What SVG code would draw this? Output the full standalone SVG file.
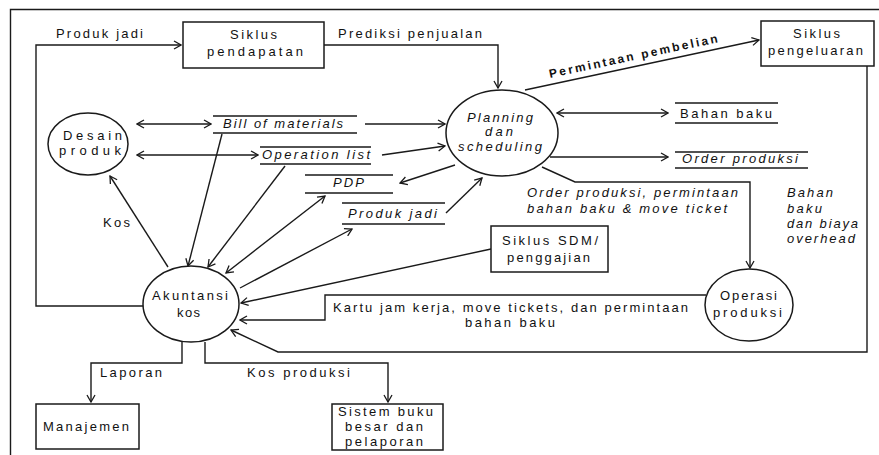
<svg xmlns="http://www.w3.org/2000/svg" width="879" height="455" viewBox="0 0 879 455">
  <style>
    .ln { fill: none; stroke: #1a1a1a; stroke-width: 1.4; }
    .box { fill: #fff; stroke: #1a1a1a; stroke-width: 1.5; }
    .t { font-family: "Liberation Sans", Arial, sans-serif; font-size: 13px; fill: #111; }
    .i { font-style: italic; }
    .b { font-weight: bold; font-size: 12px; }
  </style>
  <defs>
    <marker id="arr" viewBox="-8 -5 9 10" markerWidth="9" markerHeight="10" refX="0" refY="0" markerUnits="userSpaceOnUse" orient="auto-start-reverse">
      <path d="M-7,-4 L0,0 L-7,4" fill="none" stroke="#1a1a1a" stroke-width="1.3"/>
    </marker>
  </defs>

  <rect x="0" y="0" width="879" height="455" fill="#fff"/>
  <!-- outer frame -->
  <path class="ln" d="M10.5,455 V9.5 H879"/>

  <!-- connectors -->
  <g id="connectors">
    <path class="ln" d="M143,306 H36 V45 H181" marker-end="url(#arr)"/>
    <path class="ln" d="M324,45 H498 V88" marker-end="url(#arr)"/>
    <path class="ln" d="M525,90 L759,40" marker-end="url(#arr)"/>
    <path class="ln" d="M137,124 H211" marker-start="url(#arr)" marker-end="url(#arr)"/>
    <path class="ln" d="M365,124 H445" marker-end="url(#arr)"/>
    <path class="ln" d="M137,155 H258" marker-start="url(#arr)" marker-end="url(#arr)"/>
    <path class="ln" d="M382,155 L445,146" marker-end="url(#arr)"/>
    <path class="ln" d="M455,165 L400,183" marker-end="url(#arr)"/>
    <path class="ln" d="M446,213 L482,178" marker-end="url(#arr)"/>
    <path class="ln" d="M557,113 H668" marker-start="url(#arr)" marker-end="url(#arr)"/>
    <path class="ln" d="M550,157 H668" marker-end="url(#arr)"/>
    <path class="ln" d="M542,167 L575,182 H750 V268" marker-end="url(#arr)"/>
    <path class="ln" d="M222,134 L188,266" marker-end="url(#arr)"/>
    <path class="ln" d="M285,166 L208,267" marker-end="url(#arr)"/>
    <path class="ln" d="M226,273 L325,196" marker-start="url(#arr)" marker-end="url(#arr)"/>
    <path class="ln" d="M240,288 L352,229" marker-end="url(#arr)"/>
    <path class="ln" d="M168,267 L110,176" marker-end="url(#arr)"/>
    <path class="ln" d="M491,249 L241,303" marker-end="url(#arr)"/>
    <path class="ln" d="M706,295 H325 V320 H240" marker-end="url(#arr)"/>
    <path class="ln" d="M867,66 V352 H278 L231,330" marker-end="url(#arr)"/>
    <path class="ln" d="M182,342 V363 H91 V402" marker-end="url(#arr)"/>
    <path class="ln" d="M205,342 V363 H388 V402" marker-end="url(#arr)"/>
  </g>

  <!-- connector labels -->
  <g id="labels">
    <text class="t" x="56" y="38" textLength="87" lengthAdjust="spacing">Produk jadi</text>
    <text class="t" x="338" y="38" textLength="144" lengthAdjust="spacing">Prediksi penjualan</text>
    <text class="t b" transform="translate(550,78) rotate(-12)" textLength="172" lengthAdjust="spacing">Permintaan pembelian</text>
    <text class="t i" x="527" y="197" textLength="211" lengthAdjust="spacing">Order produksi, permintaan</text>
    <text class="t i" x="527" y="213" textLength="200" lengthAdjust="spacing">bahan baku &amp; move ticket</text>
    <text class="t i" x="787" y="197" textLength="46" lengthAdjust="spacing">Bahan</text>
    <text class="t i" x="787" y="213" textLength="35" lengthAdjust="spacing">baku</text>
    <text class="t i" x="787" y="228" textLength="71" lengthAdjust="spacing">dan biaya</text>
    <text class="t i" x="787" y="243" textLength="68" lengthAdjust="spacing">overhead</text>
    <text class="t" x="103" y="227" textLength="27" lengthAdjust="spacing">Kos</text>
    <text class="t" x="333" y="312" textLength="355" lengthAdjust="spacing">Kartu jam kerja, move tickets, dan permintaan</text>
    <text class="t" x="465" y="327" textLength="90" lengthAdjust="spacing">bahan baku</text>
    <text class="t" x="100" y="377" textLength="62" lengthAdjust="spacing">Laporan</text>
    <text class="t" x="247" y="377" textLength="103" lengthAdjust="spacing">Kos produksi</text>
  </g>

  <!-- external entities -->
  <g id="siklus-pendapatan">
    <rect class="box" x="183" y="22" width="141" height="46"/>
    <text class="t" x="230" y="39" textLength="47" lengthAdjust="spacing">Siklus</text>
    <text class="t" x="207" y="56" textLength="96" lengthAdjust="spacing">pendapatan</text>
  </g>
  <g id="siklus-pengeluaran">
    <rect class="box" x="761" y="21" width="113" height="45"/>
    <text class="t" x="793" y="38" textLength="47" lengthAdjust="spacing">Siklus</text>
    <text class="t" x="768" y="55" textLength="95" lengthAdjust="spacing">pengeluaran</text>
  </g>
  <g id="siklus-sdm">
    <rect class="box" x="491" y="226" width="117" height="46"/>
    <text class="t" x="502" y="245" textLength="96" lengthAdjust="spacing">Siklus SDM/</text>
    <text class="t" x="507" y="262" textLength="83" lengthAdjust="spacing">penggajian</text>
  </g>
  <g id="manajemen">
    <rect class="box" x="36" y="404" width="103" height="45"/>
    <text class="t" x="43" y="431" textLength="86" lengthAdjust="spacing">Manajemen</text>
  </g>
  <g id="sistem-buku-besar">
    <rect class="box" x="332" y="404" width="111" height="46"/>
    <text class="t" x="338" y="416" textLength="95" lengthAdjust="spacing">Sistem buku</text>
    <text class="t" x="345" y="431" textLength="78" lengthAdjust="spacing">besar dan</text>
    <text class="t" x="345" y="446" textLength="78" lengthAdjust="spacing">pelaporan</text>
  </g>

  <!-- processes -->
  <g id="desain-produk">
    <ellipse class="box" cx="88" cy="144" rx="40" ry="31"/>
    <text class="t" x="63" y="140" textLength="59" lengthAdjust="spacing">Desain</text>
    <text class="t" x="59" y="155" textLength="62" lengthAdjust="spacing">produk</text>
  </g>
  <g id="planning-scheduling">
    <ellipse class="box" cx="502" cy="133" rx="56" ry="43"/>
    <text class="t i" x="467" y="122" textLength="66" lengthAdjust="spacing">Planning</text>
    <text class="t i" x="485" y="136" textLength="28" lengthAdjust="spacing">dan</text>
    <text class="t i" x="458" y="151" textLength="84" lengthAdjust="spacing">scheduling</text>
  </g>
  <g id="akuntansi-kos">
    <ellipse class="box" cx="191" cy="304" rx="48" ry="38"/>
    <text class="t" x="152" y="300" textLength="76" lengthAdjust="spacing">Akuntansi</text>
    <text class="t" x="177" y="317" textLength="23" lengthAdjust="spacing">kos</text>
  </g>
  <g id="operasi-produksi">
    <ellipse class="box" cx="749" cy="305" rx="44" ry="36"/>
    <text class="t" x="720" y="300" textLength="57" lengthAdjust="spacing">Operasi</text>
    <text class="t" x="713" y="317" textLength="69" lengthAdjust="spacing">produksi</text>
  </g>

  <!-- data stores -->
  <g id="store-bill-of-materials">
    <path class="ln" d="M213,116 H357 M213,133 H357"/>
    <text class="t i" x="223" y="128" textLength="120" lengthAdjust="spacing">Bill of materials</text>
  </g>
  <g id="store-operation-list">
    <path class="ln" d="M260,147 H371 M260,164 H371"/>
    <text class="t i" x="262" y="159" textLength="108" lengthAdjust="spacing">Operation list</text>
  </g>
  <g id="store-pdp">
    <path class="ln" d="M305,175 H393 M305,193 H393"/>
    <text class="t i" x="333" y="187" textLength="31" lengthAdjust="spacing">PDP</text>
  </g>
  <g id="store-produk-jadi">
    <path class="ln" d="M342,203 H445 M342,224 H445"/>
    <text class="t i" x="348" y="218" textLength="89" lengthAdjust="spacing">Produk jadi</text>
  </g>
  <g id="store-bahan-baku">
    <path class="ln" d="M675,103 H778 M675,123 H778"/>
    <text class="t" x="680" y="118" textLength="92" lengthAdjust="spacing">Bahan baku</text>
  </g>
  <g id="store-order-produksi">
    <path class="ln" d="M675,152 H808 M675,168 H808"/>
    <text class="t i" x="682" y="163" textLength="116" lengthAdjust="spacing">Order produksi</text>
  </g>
</svg>
